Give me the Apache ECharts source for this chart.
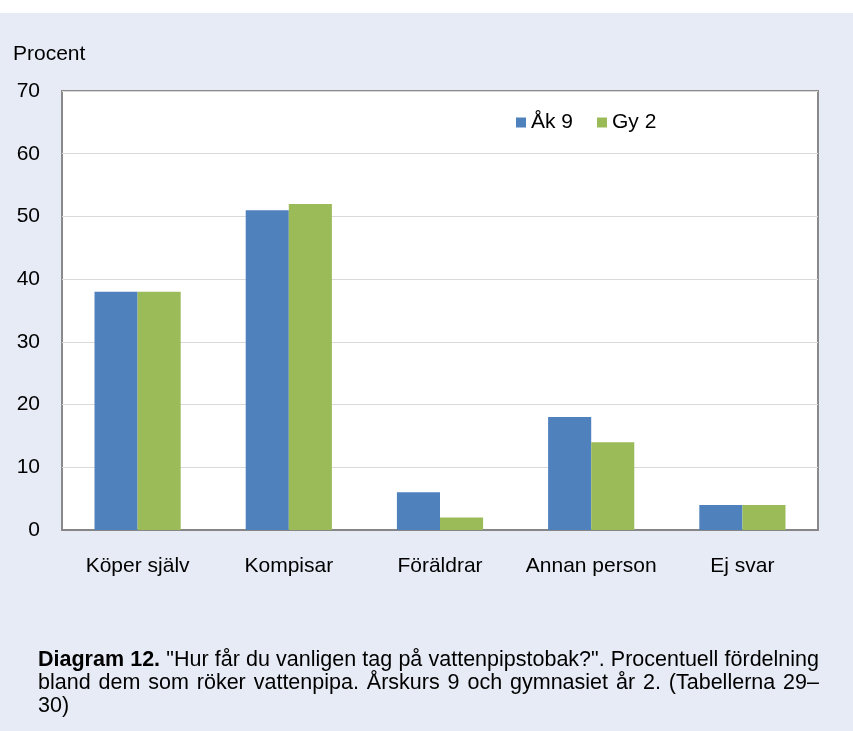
<!DOCTYPE html>
<html>
<head>
<meta charset="utf-8">
<script src="https://cdn.jsdelivr.net/npm/echarts@6/dist/echarts.min.js"></script>
<style>
  html, body { margin: 0; padding: 0; background: #e7ebf5; }
  #wrap { position: relative; width: 853px; height: 731px; }
  #chart { width: 853px; height: 731px; }
  /* bildtext, marginaljusterad som i originalet */
  .caption {
    position: absolute;
    left: 38px;
    top: 648px;
    width: 781px;
    font: 21.5px 'Liberation Sans', Arial, sans-serif;
    line-height: 23px;
    color: #000;
  }
  .caption span { display: block; text-align: justify; text-align-last: justify; white-space: nowrap; }
  .caption span.last { text-align-last: left; }
</style>
</head>
<body>
<div id="wrap">
  <div id="chart"></div>
  <div class="caption">
    <span><b>Diagram 12.</b> "Hur får du vanligen tag på vattenpipstobak?". Procentuell fördelning</span>
    <span>bland dem som röker vattenpipa. Årskurs 9 och gymnasiet år 2. (Tabellerna 29–</span>
    <span class="last">30)</span>
  </div>
</div>
<script>
// kategorier och värden (procent)
const categories = ['Köper själv', 'Kompisar', 'Föräldrar', 'Annan person', 'Ej svar']
const ak9 = [38, 51, 6, 18, 4]
const gy2 = [38, 52, 2, 14, 4]
const seriesNames = ['Åk 9', 'Gy 2']

const font = 'Liberation Sans, Arial, sans-serif'

const myChart = echarts.init(document.getElementById('chart'))

const options = {
  backgroundColor: '#e7ebf5',
  textStyle: { fontFamily: font },
  graphic: [
    // vit remsa överst
    { type: 'rect', left: 0, top: 0, shape: { width: 853, height: 13 }, style: { fill: '#fff' } },
    {
      type: 'text', left: 13, top: 44,
      style: { text: 'Procent', font: '21px ' + font, fill: '#000' }
    }
  ],
  legend: {
    left: 511,
    top: 107,
    itemWidth: 10,
    itemHeight: 10,
    itemGap: 24,
    icon: 'rect',
    textStyle: { fontSize: 21, color: '#000', fontFamily: font },
    data: seriesNames
  },
  grid: {
    left: 62,
    right: 35,
    top: 91,
    bottom: 201,
    show: true,
    backgroundColor: '#fff',
    borderColor: '#8a8a8a',
    borderWidth: 2
  },
  xAxis: {
    type: 'category',
    data: categories,
    axisLine: { lineStyle: { color: '#868686', width: 2 } },
    axisTick: { show: false },
    axisLabel: { color: '#000', fontSize: 21, margin: 26, interval: 0, fontFamily: font }
  },
  yAxis: {
    type: 'value',
    min: 0,
    max: 70,
    interval: 10,
    axisLine: { show: false },
    axisTick: { show: false },
    axisLabel: { color: '#000', fontSize: 21, margin: 22, fontFamily: font },
    splitLine: { lineStyle: { color: '#d9d9d9', width: 1 } }
  },
  series: [
    {
      name: seriesNames[0],
      type: 'bar',
      data: ak9,
      barGap: '0%',
      barCategoryGap: '43%',
      itemStyle: { color: '#4f81bd' }
    },
    {
      name: seriesNames[1],
      type: 'bar',
      data: gy2,
      barGap: '0%',
      barCategoryGap: '43%',
      itemStyle: { color: '#9bbb59' }
    }
  ]
}

myChart.setOption(options)
</script>
</body>
</html>
